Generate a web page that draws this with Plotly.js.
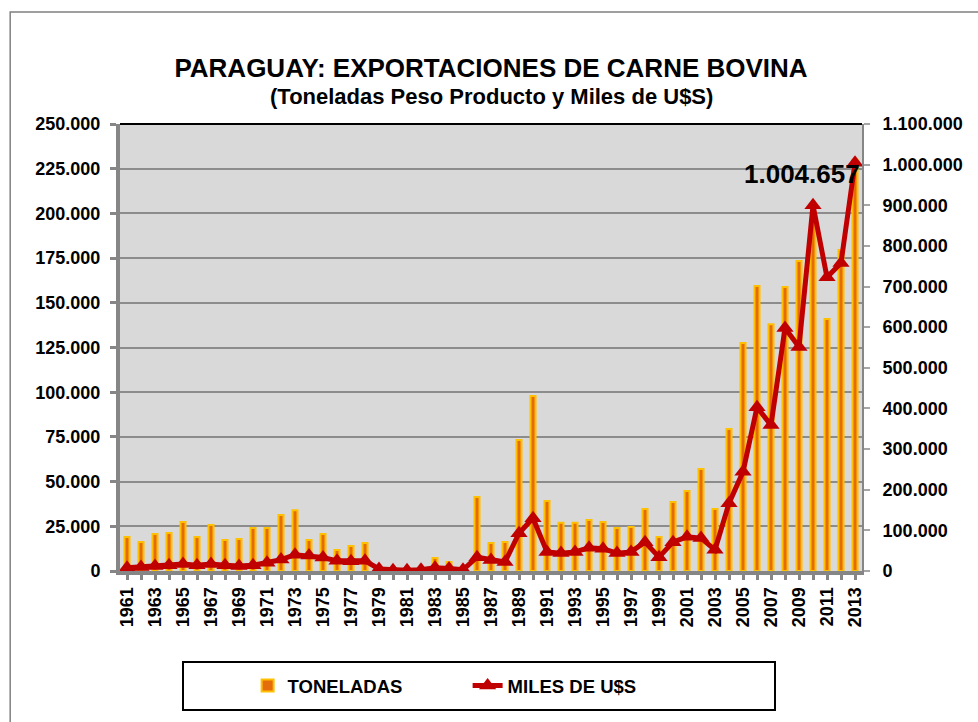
<!DOCTYPE html>
<html>
<head>
<meta charset="utf-8">
<script src="https://cdn.plot.ly/plotly-3.0.1.min.js"></script>
<style>html,body{margin:0;padding:0;background:#fff;}#chart{width:978px;height:722px;}</style>
</head>
<body>
<div id="chart"></div>
<script>
const years = [1961,1962,1963,1964,1965,1966,1967,1968,1969,1970,1971,1972,1973,1974,1975,1976,1977,1978,1979,1980,1981,1982,1983,1984,1985,1986,1987,1988,1989,1990,1991,1992,1993,1994,1995,1996,1997,1998,1999,2000,2001,2002,2003,2004,2005,2006,2007,2008,2009,2010,2011,2012,2013];
const toneladas = [19000,16200,20700,21300,27400,19000,25700,17300,17900,24000,24000,31300,34000,17300,20700,11700,14000,15700,1000,500,500,1000,7300,5000,1000,41400,15600,16200,73300,97900,39100,27000,27000,28500,27400,24000,24600,34700,19000,38600,44700,57000,34700,79400,127500,159400,138000,158800,173400,195000,141000,179500,230000];
const milesUSD = [8000,10000,12000,14000,17000,14000,17000,14000,12000,14000,20000,28000,40000,38000,33000,25000,24000,25000,5000,2000,2000,3000,8000,6000,3000,34000,27000,22000,93000,130000,47000,44000,47000,57000,55000,44000,47000,71000,34000,71000,84000,81000,52000,167000,244000,403000,359000,598000,551000,900000,723000,758000,1004657];
const xTickLabels = years.map(y => (y % 2 === 1 ? String(y) : ''));
const leftTicks = [0,25000,50000,75000,100000,125000,150000,175000,200000,225000,250000];
const rightTicks = [0,100000,200000,300000,400000,500000,600000,700000,800000,900000,1000000,1100000];
const seriesNames = ['TONELADAS','MILES DE U$S'];
const titleText = 'PARAGUAY: EXPORTACIONES DE CARNE BOVINA';
const subtitleText = '(Toneladas Peso Producto y Miles de U$S)';

function fmt(n){ return String(Math.round(n)).replace(/\B(?=(\d{3})+(?!\d))/g,'.'); }

const FONT = 'Liberation Sans, Arial, sans-serif';
const lastIdx = years.length - 1;

const traces = [
  {
    type:'bar', x:years, y:toneladas, name:seriesNames[0], yaxis:'y',
    width:0.36,
    marker:{color:'#E46C0A', line:{color:'#FFC000', width:2}},
    hoverinfo:'x+y'
  },
  {
    type:'scatter', mode:'lines+markers', x:years, y:milesUSD, name:seriesNames[1], yaxis:'y2',
    line:{color:'#C00000', width:5},
    marker:{symbol:'triangle-up', size:15, color:'#C00000'},
    cliponaxis:false
  }
];

const layout = {
  width:978, height:722,
  paper_bgcolor:'#ffffff', plot_bgcolor:'#D9D9D9',
  separators:',.',
  margin:{l:120, r:116, t:124, b:151},
  font:{family:FONT, color:'#000', size:16},
  title:{
    text:'<b>'+titleText+'</b>',
    font:{family:FONT, size:26, color:'#000'},
    x:0.5, xref:'paper', xanchor:'center', y:1-68/722, yref:'container', yanchor:'middle'
  },
  showlegend:true,
  legend:{
    orientation:'h', x:0.172, xanchor:'left', y:-0.257, yanchor:'middle',
    font:{family:FONT, size:18.5, color:'#000', weight:'bold'},
    entrywidth:175, entrywidthmode:'pixels',
    bgcolor:'rgba(0,0,0,0)', borderwidth:0, traceorder:'normal'
  },
  xaxis:{
    range:[1960.5, 2013.5],
    tickmode:'array', tickvals:years, ticktext:xTickLabels,
    tickangle:-90,
    tickfont:{family:FONT, size:18, color:'#000', weight:'bold'},
    ticks:'outside', ticklen:5, tickwidth:3, tickcolor:'#868686',
    showline:true, linecolor:'#868686', linewidth:4,
    showgrid:false, zeroline:false, fixedrange:true
  },
  yaxis:{
    range:[0,250000], tickmode:'array', tickvals:leftTicks,
    tickformat:',d',
    tickfont:{family:FONT, size:18, color:'#000', weight:'bold'},
    ticks:'outside', ticklen:6, tickwidth:3, tickcolor:'#868686',
    ticklabelstandoff:6,
    showline:true, linecolor:'#868686', linewidth:4,
    showgrid:true, gridcolor:'#8C8C8C', gridwidth:2,
    zeroline:false, fixedrange:true
  },
  yaxis2:{
    overlaying:'y', side:'right',
    range:[0,1100000], tickmode:'array', tickvals:rightTicks,
    tickformat:',d',
    tickfont:{family:FONT, size:18, color:'#000', weight:'bold'},
    ticks:'outside', ticklen:6, tickwidth:2, tickcolor:'#A6A6A6',
    ticklabelstandoff:9,
    showline:true, linecolor:'#868686', linewidth:2,
    showgrid:false, zeroline:false, fixedrange:true
  },
  shapes:[
    {type:'line', xref:'paper', yref:'paper', x0:0, x1:1, y0:1, y1:1, line:{color:'#000', width:2}},
    {type:'rect', xref:'paper', yref:'paper', x0:-0.148, x1:1.2, y0:-0.4, y1:1.2506, line:{color:'#808080', width:1.5}, layer:'below'},
    {type:'rect', xref:'paper', yref:'paper', x0:(183-120)/742, x1:(775-120)/742, y0:(571-710)/447, y1:(571-662)/447, line:{color:'#000', width:2}, fillcolor:'rgba(0,0,0,0)'}
  ],
  annotations:[
    {
      x:0.5, y:(571-97)/447, xref:'paper', yref:'paper',
      text:'<b>'+subtitleText+'</b>', showarrow:false,
      xanchor:'center', yanchor:'middle',
      font:{family:FONT, size:22, color:'#000'}
    },
    {
      x:years[lastIdx], y:milesUSD[lastIdx], xref:'x', yref:'y2',
      text:'<b>'+fmt(milesUSD[lastIdx])+'</b>', showarrow:false,
      xanchor:'right', yanchor:'middle', xshift:7, yshift:-11,
      font:{family:FONT, size:26, color:'#000'}
    }
  ]
};

Plotly.newPlot('chart', traces, layout, {displayModeBar:false, staticPlot:true});
</script>
</body>
</html>
